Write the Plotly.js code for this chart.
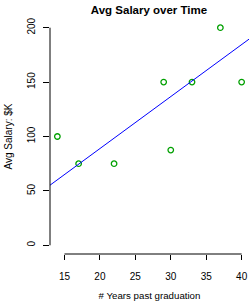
<!DOCTYPE html>
<html>
<head>
<meta charset="utf-8">
<script src="https://cdn.plot.ly/plotly-3.0.1.min.js"></script>
<style>html,body{margin:0;padding:0;background:#fff;}#chart{width:250px;height:301px;}</style>
</head>
<body>
<div id="chart"></div>
<script>
// Data
const yearsPast = [14, 17, 22, 29, 30, 33, 37, 40];
const avgSalary = [100, 75, 75, 150, 87.5, 150, 200, 150];
const fitIntercept = -6.7;
const fitSlope = 4.78;
const xTicks = [15, 20, 25, 30, 35, 40];
const yTicks = [0, 50, 100, 150, 200];

const xRange = [12.96, 41.04];
const yRange = [-8, 208];

const fitX = [xRange[0], xRange[1]];
const fitY = fitX.map(x => fitIntercept + fitSlope * x);

const font = "Liberation Sans, Arial, Helvetica, sans-serif";

const traces = [
  {
    x: yearsPast, y: avgSalary, type: 'scatter', mode: 'markers',
    marker: {symbol: 'circle-open', size: 5.5, color: '#00a000', line: {width: 1.3, color: '#00a000'}},
    hoverinfo: 'none'
  },
  {
    x: fitX, y: fitY, type: 'scatter', mode: 'lines',
    line: {color: '#0000ff', width: 1}, hoverinfo: 'none'
  }
];

const layout = {
  width: 250, height: 301,
  margin: {l: 50, r: 1, t: 19, b: 47, pad: 0},
  paper_bgcolor: '#ffffff', plot_bgcolor: '#ffffff',
  showlegend: false,
  font: {family: font, size: 10, color: '#000'},
  title: {
    text: '<b>Avg Salary over Time</b>',
    font: {family: font, size: 11.5, color: '#000'},
    x: 149 / 250, xanchor: 'center', xref: 'container',
    y: 1 - 10 / 301, yanchor: 'middle', yref: 'container'
  },
  xaxis: {
    range: xRange, tickvals: xTicks, ticktext: xTicks.map(String),
    showgrid: false, zeroline: false, showline: false,
    ticks: 'outside', ticklen: 5, tickwidth: 1, tickcolor: '#000',
    ticklabelstandoff: 8,
    tickfont: {family: font, size: 10, color: '#000'},
    title: {text: '# Years past graduation', font: {family: font, size: 9.7, color: '#000'}, standoff: 14}
  },
  yaxis: {
    range: yRange, tickvals: yTicks, ticktext: yTicks.map(String),
    showgrid: false, zeroline: false, showline: false,
    ticks: 'outside', ticklen: 6, tickwidth: 1, tickcolor: '#000',
    tickangle: -90, ticklabelstandoff: 4,
    tickfont: {family: font, size: 10, color: '#000'},
    title: {text: 'Avg Salary: $K', font: {family: font, size: 10, color: '#000'}, standoff: 11}
  },
  shapes: [
    {type: 'line', xref: 'x', yref: 'paper', x0: xTicks[0], x1: xTicks[xTicks.length - 1], y0: 0, y1: 0,
     line: {color: '#000', width: 1}},
    {type: 'line', xref: 'paper', yref: 'y', x0: 0, x1: 0, y0: yTicks[0], y1: yTicks[yTicks.length - 1],
     line: {color: '#000', width: 1}}
  ]
};

Plotly.newPlot('chart', traces, layout, {staticPlot: true, displayModeBar: false});
</script>
</body>
</html>
